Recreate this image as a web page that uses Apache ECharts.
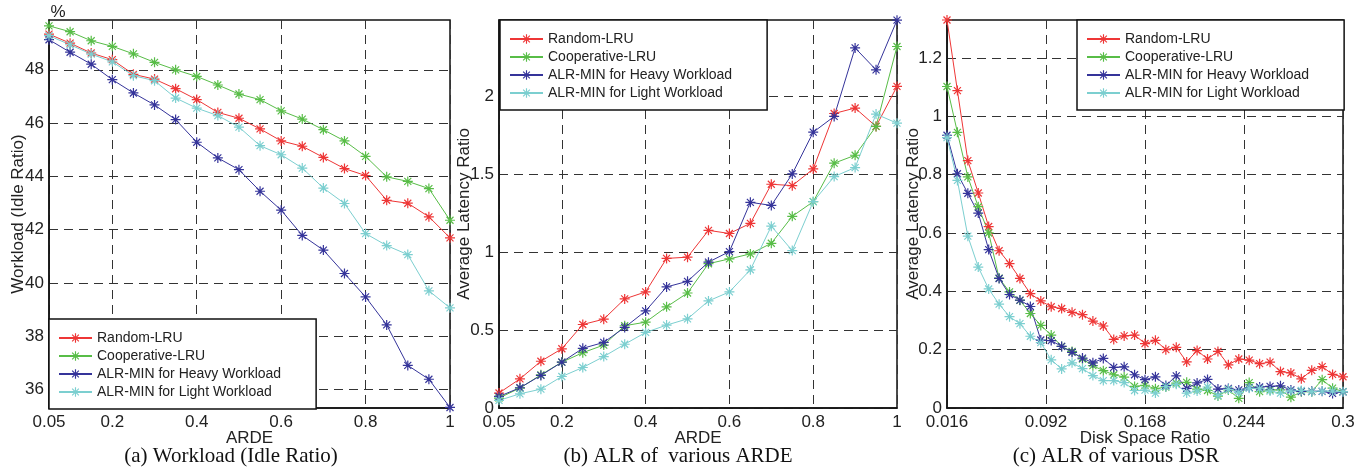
<!DOCTYPE html>
<html>
<head>
<meta charset="utf-8">
<script src="https://cdn.jsdelivr.net/npm/echarts@6/dist/echarts.min.js"></script>
<style>
  html, body { margin: 0; padding: 0; background: #fff; }
  #chart { width: 1366px; height: 472px; }
</style>
</head>
<body>
<div id="chart"></div>
<script>
// x values for panels (a) and (b)
const ardeValues = [0.05, 0.1, 0.15, 0.2, 0.25, 0.3, 0.35, 0.4, 0.45, 0.5,
  0.55, 0.6, 0.65, 0.7, 0.75, 0.8, 0.85, 0.9, 0.95, 1];

// x values for panel (c)
const dsrValues = [0.016, 0.024, 0.032, 0.04, 0.048, 0.056, 0.064, 0.072, 0.08, 0.088,
  0.096, 0.104, 0.112, 0.12, 0.128, 0.136, 0.144, 0.152, 0.16, 0.168,
  0.176, 0.184, 0.192, 0.2, 0.208, 0.216, 0.224, 0.232, 0.24, 0.248,
  0.256, 0.264, 0.272, 0.28, 0.288, 0.296, 0.304, 0.312, 0.32];

// (a) workload (idle ratio, %)
const workloadRandom = [49.34, 49.0, 48.63, 48.38, 47.83, 47.65, 47.29, 46.88, 46.4, 46.18,
  45.78, 45.33, 45.13, 44.71, 44.29, 44.03, 43.1, 42.99, 42.48, 41.69];
const workloadCoop = [49.65, 49.43, 49.09, 48.88, 48.6, 48.28, 48.0, 47.75, 47.43, 47.09,
  46.88, 46.46, 46.15, 45.75, 45.33, 44.75, 43.98, 43.81, 43.54, 42.35];
const workloadHeavy = [49.13, 48.66, 48.21, 47.63, 47.13, 46.68, 46.13, 45.28, 44.69, 44.25,
  43.44, 42.73, 41.78, 41.23, 40.35, 39.47, 38.42, 36.9, 36.38, 35.32];
const workloadLight = [49.28, 48.94, 48.59, 48.3, 47.78, 47.59, 46.94, 46.56, 46.28, 45.85,
  45.15, 44.81, 44.31, 43.56, 42.98, 41.85, 41.4, 41.06, 39.7, 39.06];

// (b) average latency ratio vs ARDE
const alrRandom = [0.096, 0.187, 0.30, 0.38, 0.536, 0.57, 0.70, 0.745, 0.96, 0.968,
  1.14, 1.12, 1.185, 1.436, 1.427, 1.534, 1.89, 1.925, 1.807, 2.064];
const alrCoop = [0.064, 0.128, 0.213, 0.294, 0.355, 0.404, 0.528, 0.551, 0.649, 0.738,
  0.926, 0.957, 0.989, 1.057, 1.23, 1.324, 1.571, 1.622, 1.807, 2.32];
const alrHeavy = [0.074, 0.13, 0.209, 0.294, 0.383, 0.421, 0.517, 0.623, 0.777, 0.813,
  0.936, 1.004, 1.32, 1.30, 1.502, 1.77, 1.871, 2.311, 2.17, 2.489];
const alrLight = [0.049, 0.091, 0.121, 0.202, 0.26, 0.33, 0.409, 0.485, 0.532, 0.572,
  0.687, 0.745, 0.887, 1.167, 1.01, 1.324, 1.485, 1.543, 1.886, 1.828];

// (c) average latency ratio vs disk space ratio
const dsrRandom = [1.33, 1.088, 0.848, 0.737, 0.622, 0.539, 0.495, 0.444, 0.392, 0.367,
  0.347, 0.341, 0.328, 0.32, 0.298, 0.281, 0.235, 0.247, 0.25, 0.221,
  0.232, 0.2, 0.208, 0.158, 0.197, 0.168, 0.194, 0.148, 0.168, 0.164,
  0.152, 0.157, 0.125, 0.12, 0.1, 0.129, 0.142, 0.115, 0.107];
const dsrCoop = [1.102, 0.945, 0.792, 0.69, 0.6, 0.445, 0.398, 0.369, 0.324, 0.283,
  0.25, 0.211, 0.194, 0.168, 0.145, 0.128, 0.114, 0.106, 0.074, 0.078,
  0.066, 0.072, 0.085, 0.088, 0.065, 0.06, 0.041, 0.062, 0.033, 0.087,
  0.056, 0.062, 0.062, 0.037, 0.056, 0.056, 0.097, 0.068, 0.056];
const dsrHeavy = [0.935, 0.803, 0.736, 0.668, 0.543, 0.444, 0.389, 0.37, 0.348, 0.233,
  0.231, 0.211, 0.191, 0.171, 0.155, 0.17, 0.139, 0.141, 0.114, 0.097,
  0.107, 0.077, 0.11, 0.067, 0.086, 0.098, 0.065, 0.067, 0.062, 0.07,
  0.072, 0.074, 0.076, 0.062, 0.057, 0.057, 0.057, 0.05, 0.055];
const dsrLight = [0.927, 0.78, 0.589, 0.483, 0.408, 0.356, 0.313, 0.289, 0.246, 0.224,
  0.165, 0.134, 0.155, 0.135, 0.111, 0.094, 0.094, 0.087, 0.06, 0.061,
  0.051, 0.073, 0.081, 0.051, 0.058, 0.072, 0.043, 0.064, 0.053, 0.068,
  0.066, 0.058, 0.051, 0.058, 0.06, 0.056, 0.058, 0.058, 0.056];

// tick labels
const ardeTicks = [0.05, 0.2, 0.4, 0.6, 0.8, 1];
const dsrTicks = [0.016, 0.092, 0.168, 0.244, 0.32];
const dsrTickLabels = ["0.016", "0.092", "0.168", "0.244", "0.3"];
const workloadTicks = [36, 38, 40, 42, 44, 46, 48];
const alrTicks = [0, 0.5, 1, 1.5, 2];
const dsrAlrTicks = [0, 0.2, 0.4, 0.6, 0.8, 1, 1.2];

const seriesNames = ["Random-LRU", "Cooperative-LRU", "ALR-MIN for Heavy Workload", "ALR-MIN for Light Workload"];
const colors = ["#ee3636", "#58bd47", "#35349a", "#7ccfd0"];
const captions = ["(a) Workload (Idle Ratio)", "(b) ALR of  various ARDE", "(c) ALR of various DSR"];

const STAR = "path://M-0.6 -5 L0.6 -5 L0.6 5 L-0.6 5 Z M-5 -0.6 L5 -0.6 L5 0.6 L-5 0.6 Z " +
  "M-3.08 -3.92 L3.92 3.08 L3.08 3.92 L-3.92 -3.08 Z M3.08 -3.92 L3.92 -3.08 L-3.08 3.92 L-3.92 3.08 Z";

const SANS = "'Liberation Sans', Arial, sans-serif";
const SERIF = "'Liberation Serif', 'Times New Roman', serif";

const grids = [
  { left: 49, top: 20, width: 401, height: 388 },
  { left: 499, top: 20, width: 398, height: 388 },
  { left: 947, top: 20, width: 396, height: 388 }
];

const splitStyle = { show: true, lineStyle: { color: "#333", type: [9, 6], width: 1 } };
const labelStyle = { color: "#222", fontSize: 17, fontFamily: SANS };

function xAxis(idx, min, max, ticks, name, fmt) {
  return {
    type: "value", gridIndex: idx, min: min, max: max,
    name: name, nameLocation: "middle", nameGap: 22, nameMoveOverlap: false,
    nameTextStyle: { color: "#222", fontSize: 17, fontFamily: SANS },
    axisLine: { show: true, lineStyle: { color: "#111", width: 1.5 } },
    axisTick: { show: false, customValues: ticks },
    axisLabel: Object.assign({ customValues: ticks, margin: 6, formatter: fmt || (v => String(v)) }, labelStyle),
    splitLine: splitStyle
  };
}

function yAxis(idx, min, max, ticks, name, gap) {
  return {
    type: "value", gridIndex: idx, min: min, max: max,
    name: name, nameLocation: "middle", nameGap: gap, nameMoveOverlap: false,
    nameTextStyle: { color: "#222", fontSize: 17, fontFamily: SANS },
    axisLine: { show: true, lineStyle: { color: "#111", width: 1.5 } },
    axisTick: { show: false, customValues: ticks },
    axisLabel: Object.assign({ customValues: ticks, margin: 5, formatter: v => String(v) }, labelStyle),
    splitLine: splitStyle
  };
}

function makeSeries(idx, xs, lists) {
  return lists.map((ys, i) => ({
    name: seriesNames[i],
    type: "line",
    xAxisIndex: idx, yAxisIndex: idx,
    data: xs.map((x, j) => [x, ys[j]]),
    symbol: STAR, symbolSize: 10, showAllSymbol: true,
    lineStyle: { color: colors[i], width: 1 },
    itemStyle: { color: colors[i] },
    animation: false
  }));
}

function legend(left, top) {
  return {
    data: seriesNames, orient: "vertical", left: left, top: top,
    itemWidth: 33, itemHeight: 12, itemGap: 4,
    padding: [12, 35, 10, 9],
    backgroundColor: "#fff", borderColor: "#111", borderWidth: 1.5, borderRadius: 0,
    textStyle: { color: "#222", fontSize: 14, fontFamily: SANS },
    selectedMode: false
  };
}

const chart = echarts.init(document.getElementById("chart"), null, { renderer: "canvas" });

const option = {
  backgroundColor: "#fff",
  animation: false,
  grid: grids.map(g => Object.assign({ show: true, borderColor: "#111", borderWidth: 1.5, backgroundColor: "#fff" }, g)),
  xAxis: [
    xAxis(0, 0.05, 1, ardeTicks, "ARDE"),
    xAxis(1, 0.05, 1, ardeTicks, "ARDE"),
    xAxis(2, 0.016, 0.32, dsrTicks, "Disk Space Ratio", v => {
      const k = dsrTicks.findIndex(t => Math.abs(t - v) < 1e-6);
      return k >= 0 ? dsrTickLabels[k] : "";
    })
  ],
  yAxis: [
    yAxis(0, 35.3, 49.87, workloadTicks, "Workload (Idle Ratio)", 22),
    yAxis(1, 0, 2.49, alrTicks, "Average Latency Ratio", 26),
    yAxis(2, 0, 1.33, dsrAlrTicks, "Average Latency Ratio", 25)
  ],
  legend: [legend(49, 319), legend(500, 20), legend(1077, 20)],
  series: [].concat(
    makeSeries(0, ardeValues, [workloadRandom, workloadCoop, workloadHeavy, workloadLight]),
    makeSeries(1, ardeValues, [alrRandom, alrCoop, alrHeavy, alrLight]),
    makeSeries(2, dsrValues, [dsrRandom, dsrCoop, dsrHeavy, dsrLight])
  ),
  graphic: [
    { type: "text", x: 58, y: 12, style: { text: "%", fontSize: 17, fontFamily: SANS, fill: "#222", textAlign: "center", textVerticalAlign: "middle" } },
    { type: "text", x: 231, y: 456, style: { text: captions[0], fontSize: 21, fontFamily: SERIF, fill: "#111", textAlign: "center", textVerticalAlign: "middle" } },
    { type: "text", x: 678, y: 456, style: { text: captions[1], fontSize: 21, fontFamily: SERIF, fill: "#111", textAlign: "center", textVerticalAlign: "middle" } },
    { type: "text", x: 1116, y: 456, style: { text: captions[2], fontSize: 21, fontFamily: SERIF, fill: "#111", textAlign: "center", textVerticalAlign: "middle" } }
  ]
};

chart.setOption(option);
window.addEventListener("resize", () => chart.resize());
</script>
</body>
</html>
